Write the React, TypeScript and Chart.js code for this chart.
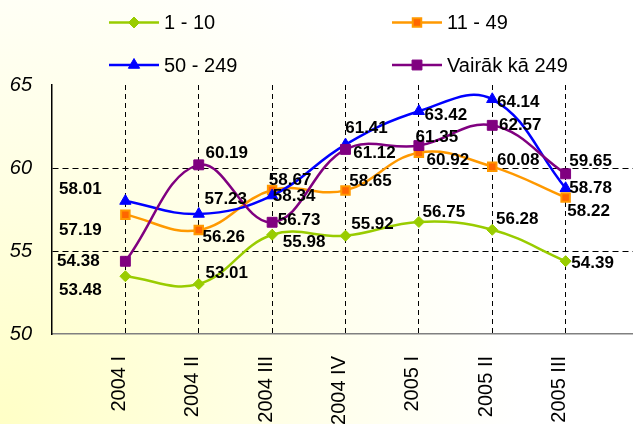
import React, { useEffect, useRef } from "react";
import { Chart, registerables } from "chart.js";

Chart.register(...registerables);

const categories = ["2004 I", "2004 II", "2004 III", "2004 IV", "2005 I", "2005 II", "2005 III"];
const seriesNames = ["1 - 10", "11 - 49", "50 - 249", "Vairāk kā 249"];
const values1to10 = [53.48, 53.01, 55.98, 55.92, 56.75, 56.28, 54.39];
const values11to49 = [57.19, 56.26, 58.67, 58.65, 60.92, 60.08, 58.22];
const values50to249 = [58.01, 57.23, 58.34, 61.41, 63.42, 64.14, 58.78];
const valuesOver249 = [54.38, 60.19, 56.73, 61.12, 61.35, 62.57, 59.65];
const yMin = 50;
const yMax = 65;
const yStep = 5;

// label placement (offset of label centre from its point, px)
const labelOffsets = [
  [[-45, 14], [28, -11], [32, 8], [27, -11], [25, -10], [25, -10], [27, 2]],
  [[-45, 16], [25, 7], [18, -10], [25, -9], [29, 8], [26, -6], [23, 14]],
  [[-45, -12], [27, -15], [22, 1], [21, -16], [27, 4], [26, 3], [25, 0]],
  [[-47, 0], [28, -12], [27, -2], [29, 4], [18, -8], [28, 0], [25, -12]],
];

const FONT = "'Liberation Sans', Arial, sans-serif";

const styles = [
  { color: "#99CC00", fill: "#99CC00", pborder: "#99CC00", style: "rectRot", radius: 5.5, pbw: 1 },
  { color: "#FF9900", fill: "#FF6600", pborder: "#FF9900", style: "rect", radius: 6, pbw: 2 },
  { color: "#0000FF", fill: "#0000FF", pborder: "#0000FF", style: "triangle", radius: 6.5, pbw: 1 },
  { color: "#800080", fill: "#800080", pborder: "#800080", style: "rect", radius: 7, pbw: 1 },
];

function drawMarker(ctx: CanvasRenderingContext2D, s: any, x: number, y: number) {
  ctx.save();
  ctx.fillStyle = s.fill;
  ctx.strokeStyle = s.pborder;
  ctx.lineWidth = s.pbw;
  ctx.setLineDash([]);
  ctx.beginPath();
  const r = s.radius;
  if (s.style === "rectRot") {
    ctx.moveTo(x, y - r);
    ctx.lineTo(x + r, y);
    ctx.lineTo(x, y + r);
    ctx.lineTo(x - r, y);
    ctx.closePath();
  } else if (s.style === "rect") {
    const h = r * Math.SQRT1_2;
    ctx.rect(x - h, y - h, 2 * h, 2 * h);
  } else {
    ctx.moveTo(x, y - r);
    ctx.lineTo(x + r * 0.866, y + r * 0.5);
    ctx.lineTo(x - r * 0.866, y + r * 0.5);
    ctx.closePath();
  }
  ctx.fill();
  ctx.stroke();
  ctx.restore();
}

const legendPlugin = {
  id: "customLegend",
  afterDraw(chart: any) {
    const ctx = chart.ctx as CanvasRenderingContext2D;
    const colX = [109, 392];
    const rowY = [22.5, 65];
    seriesNames.forEach((name, i) => {
      const s = styles[i];
      const x0 = colX[i % 2];
      const y = rowY[Math.floor(i / 2)];
      ctx.save();
      ctx.strokeStyle = s.color;
      ctx.lineWidth = 2.5;
      ctx.beginPath();
      ctx.moveTo(x0, y);
      ctx.lineTo(x0 + 50, y);
      ctx.stroke();
      ctx.restore();
      drawMarker(ctx, s, x0 + 25, y);
      ctx.save();
      ctx.fillStyle = "#000";
      ctx.font = `20px ${FONT}`;
      ctx.textBaseline = "middle";
      ctx.textAlign = "left";
      ctx.fillText(name, x0 + 55, y + 1);
      ctx.restore();
    });
  },
};

const dataLabelPlugin = {
  id: "dataLabels",
  afterDatasetsDraw(chart: any) {
    const ctx = chart.ctx as CanvasRenderingContext2D;
    ctx.save();
    ctx.font = `bold 17px ${FONT}`;
    ctx.fillStyle = "#000";
    ctx.textAlign = "center";
    ctx.textBaseline = "middle";
    chart.data.datasets.forEach((ds: any, di: number) => {
      const meta = chart.getDatasetMeta(di);
      meta.data.forEach((pt: any, j: number) => {
        const v = ds.data[j];
        if (v === null || v === undefined) return;
        const off = labelOffsets[di][j - 1];
        ctx.fillText(v.toFixed(2), pt.x + off[0], pt.y + off[1]);
      });
    });
    ctx.restore();
  },
};

export default function App() {
  const ref = useRef<HTMLCanvasElement | null>(null);
  useEffect(() => {
    if (!ref.current) return;
    const allSeries = [values1to10, values11to49, values50to249, valuesOver249];
    const labels = ["", ...categories, ""];
    const chart = new Chart(ref.current, {
      type: "line",
      data: {
        labels,
        datasets: allSeries.map((vals, i) => ({
          label: seriesNames[i],
          data: [null, ...vals, null],
          borderColor: styles[i].color,
          backgroundColor: styles[i].fill,
          borderWidth: 2.5,
          tension: 0.4,
          pointStyle: styles[i].style as any,
          pointRadius: styles[i].radius,
          pointBackgroundColor: styles[i].fill,
          pointBorderColor: styles[i].pborder,
          pointBorderWidth: styles[i].pbw,
          fill: false,
          order: 4 - i,
        })),
      },
      options: {
        responsive: false,
        animation: false,
        events: [],
        layout: { padding: { top: 85, left: 0, right: 0, bottom: 0 } },
        plugins: { legend: { display: false }, tooltip: { enabled: false } },
        scales: {
          x: {
            type: "category",
            offset: false,
            grid: {
              drawTicks: false,
              color: (c: any) => (c.index === 0 ? "rgba(0,0,0,0)" : "#000"),
              lineWidth: 1,
            },
            border: { display: true, color: "#808080", width: 1.5, dash: [5, 4] },
            ticks: {
              autoSkip: false,
              maxRotation: 90,
              minRotation: 90,
              padding: 22,
              labelOffset: -6,
              color: "#000",
              font: { family: FONT, size: 20 },
            },
            afterFit: (s: any) => {
              s.height = 90;
            },
          },
          y: {
            min: yMin,
            max: yMax,
            grid: {
              drawTicks: false,
              color: (c: any) =>
                c.tick && (c.tick.value === yMin || c.tick.value === yMax) ? "rgba(0,0,0,0)" : "#000",
              lineWidth: 1,
            },
            border: { display: true, color: "#000", width: 1.5, dash: [6, 4] },
            ticks: {
              stepSize: yStep,
              padding: 20,
              color: "#000",
              font: { family: FONT, size: 20, style: "italic" },
            },
            afterFit: (s: any) => {
              s.width = 52;
            },
          },
        },
      },
      plugins: [dataLabelPlugin, legendPlugin],
    });
    return () => chart.destroy();
  }, []);
  return (
    <div
      style={{
        position: "fixed",
        left: 0,
        top: 0,
        width: 633,
        height: 424,
        overflow: "hidden",
        background: "radial-gradient(circle 520px at 0% 100%, #ffffc6 0%, #ffffe2 45%, #ffffff 100%)",
      }}
    >
      <canvas ref={ref} width={685} height={424} style={{ width: 685, height: 424, display: "block" }} />
    </div>
  );
}
